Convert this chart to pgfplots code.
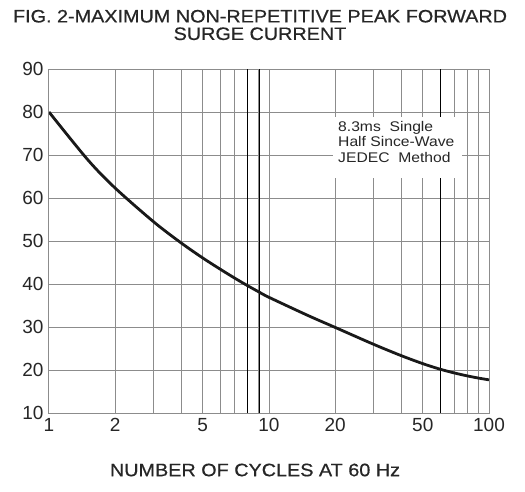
\documentclass[border=0pt]{standalone}
\usepackage{fontspec}
\setmainfont{Liberation Sans}
\newfontfamily\widefont{Liberation Sans}[FakeStretch=1.1, FakeBold=0.6]
\newfontfamily\boxfont{Liberation Sans}[FakeStretch=1.12]
\usepackage{pgfplots}
\pgfplotsset{compat=1.18}
\begin{document}
\begin{tikzpicture}[x=1pt,y=1pt]
\path[use as bounding box] (-49,-78) rectangle (476,413);
\begin{axis}[
  at={(0,0)}, anchor=south west,
  scale only axis, width=440pt, height=344pt,
  xmode=log, xmin=1, xmax=100, ymin=10, ymax=90,
  xtick={1,2,3,4,5,6,7,8,9,10,20,30,40,50,60,70,80,90,100},
  xticklabels={1,2,,,5,,,,,10,20,,,50,,,,,100},
  ytick={10,20,...,90},
  major tick length=0pt, minor tick length=0pt,
  grid=major,
  grid style={draw=black!45, line width=1pt},
  axis line style={draw=black!45, line width=1pt},
  extra x ticks={8,9,60}, extra x tick labels={},
  extra x tick style={grid style={draw=black, line width=0.8pt}},
  /pgf/number format/assume math mode=true,
  tick label style={font=\fontsize{19}{19}\selectfont, text=black!85},
  xticklabel style={yshift=-2pt},
  yticklabel style={xshift=-2pt},
  log ticks with fixed point,
  clip=true,
]
\addplot[black!90, line width=2.8pt, smooth, tension=0.5] coordinates {
(1,80) (1.5,68.9) (2,62.3) (3,54.4) (4,49.5) (5,46.05) (6,43.45) (7,41.34) (8,39.6) (9,38.15) (10,36.9)
(15,32.7) (20,29.9) (30,25.94) (40,23.32) (50,21.48) (60,20.18) (70,19.28) (80,18.61) (90,18.1) (100,17.71)
};
\end{axis}
\node[anchor=north west, fill=white, inner sep=0pt, minimum width=129pt, minimum height=61pt] at (284,296) {};
\node[anchor=north west, align=left, inner sep=0pt, font=\boxfont\fontsize{14}{15.5}\selectfont, text=black!85] at (289,292) {8.3ms\ \ Single\\Half\ Since-Wave\\JEDEC\ \ Method};
\node[align=center, font=\widefont\fontsize{18}{17.5}\selectfont, text=black!85] at (211,388) {FIG. 2-MAXIMUM NON-REPETITIVE PEAK FORWARD\\SURGE CURRENT};
\node[font=\widefont\fontsize{18}{18}\selectfont, text=black!85] at (206,-57) {NUMBER OF CYCLES AT 60 Hz};
\end{tikzpicture}
\end{document}
